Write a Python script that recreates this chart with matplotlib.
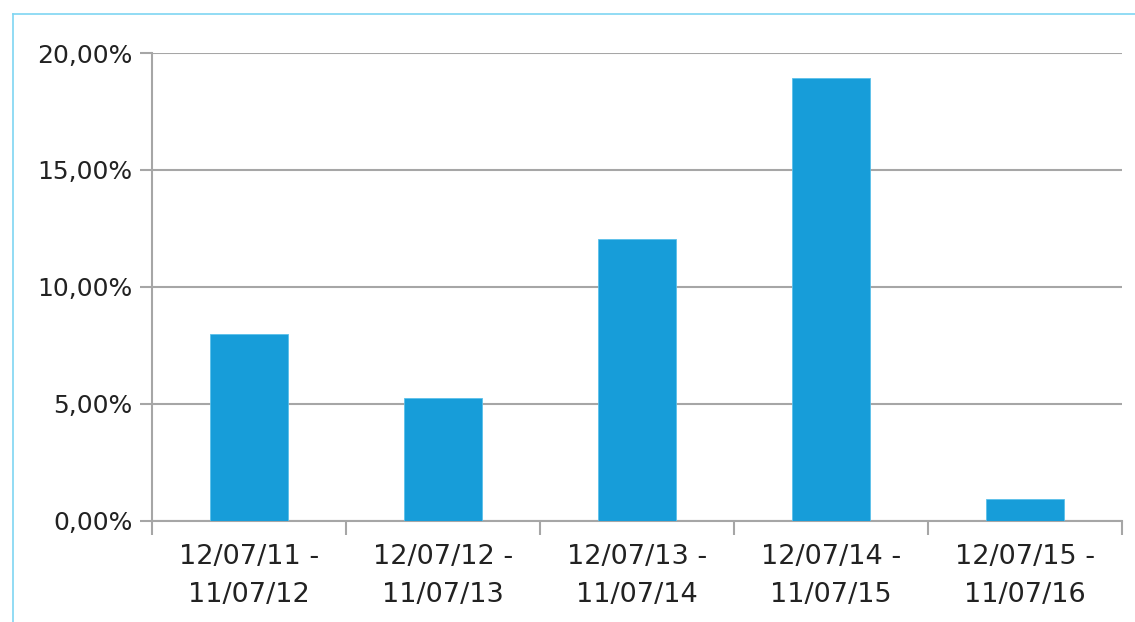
import matplotlib
matplotlib.use("Agg")
import matplotlib.pyplot as plt
from matplotlib.lines import Line2D
import numpy as np

categories = ["12/07/11 -\n11/07/12", "12/07/12 -\n11/07/13", "12/07/13 -\n11/07/14",
              "12/07/14 -\n11/07/15", "12/07/15 -\n11/07/16"]
values = [8.00, 5.25, 12.03, 18.92, 0.93]
yticks = [0, 5, 10, 15, 20]
ytick_labels = ["0,00%", "5,00%", "10,00%", "15,00%", "20,00%"]

plt.rcParams['font.family'] = ['DejaVu Sans']

fig = plt.figure(figsize=(11.35, 6.22), dpi=100)
ax = fig.add_axes([152/1135, 101.3/622, (1122-152)/1135, (520.7-53)/622])

x = np.arange(len(categories))
ax.bar(x, values, width=0.4, color="#179DD9", edgecolor="#5BC0EA", linewidth=0.6, zorder=3)

ax.set_xlim(-0.5, len(categories) - 0.5)
ax.set_ylim(0, 20)
ax.set_yticks(yticks)
ax.set_yticklabels(ytick_labels, fontsize=18, color="#222222")
ax.yaxis.grid(True, color="#A6A6A6", linewidth=1.5, zorder=0)

ax.set_xticks(np.arange(len(categories) + 1) - 0.5)
ax.set_xticklabels([])
ax.set_xticks(x, minor=True)
ax.set_xticklabels(categories, minor=True, fontsize=19.5, color="#222222", linespacing=1.6)
ax.tick_params(axis='x', which='major', length=10, width=1.5, color="#A6A6A6")
ax.tick_params(axis='x', which='minor', length=0, pad=17)
ax.tick_params(axis='y', length=9, width=1.5, color="#A6A6A6", pad=5)

for s in ['top', 'right']:
    ax.spines[s].set_visible(False)
ax.spines['left'].set_color("#A6A6A6")
ax.spines['left'].set_linewidth(1.5)
ax.spines['bottom'].set_color("#A6A6A6")
ax.spines['bottom'].set_linewidth(1.5)

# outer frame lines (light blue) on left and top
yb = 1 - 14/622
xl = 13/1135
fig.add_artist(Line2D([xl, 1], [yb, yb], transform=fig.transFigure, color="#7FD6F2", linewidth=1.2))
fig.add_artist(Line2D([xl, xl], [0, yb], transform=fig.transFigure, color="#7FD6F2", linewidth=1.2))

fig.savefig("out.png", dpi=100)
